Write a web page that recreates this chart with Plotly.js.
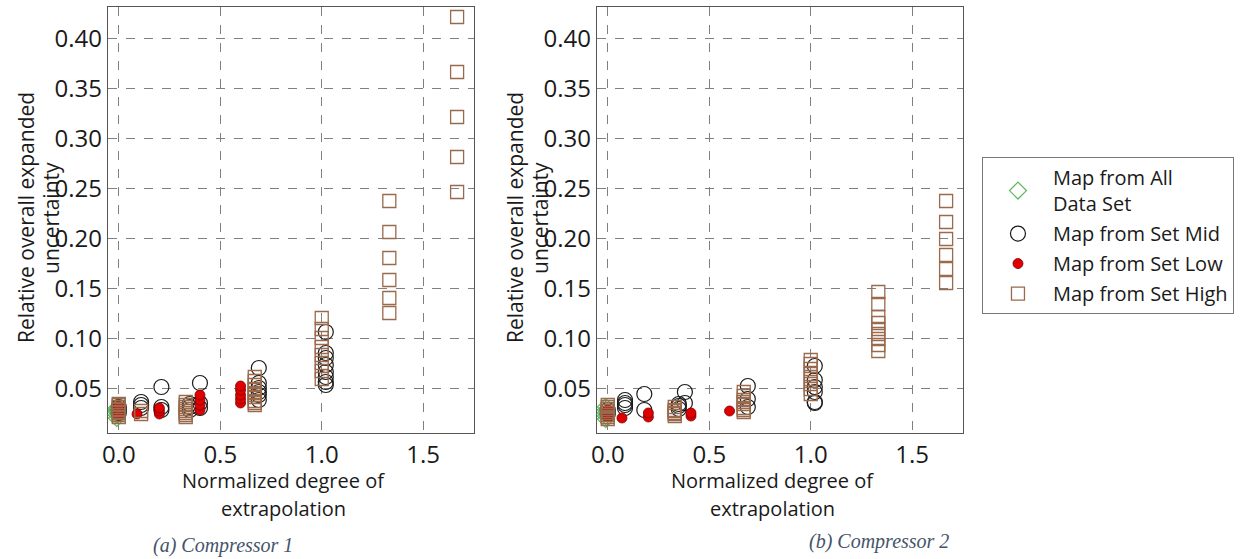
<!DOCTYPE html>
<html>
<head>
<meta charset="utf-8">
<script src="https://cdn.plot.ly/plotly-3.0.1.min.js"></script>
<style>
  html, body { margin: 0; padding: 0; background: #ffffff; }
  #chart { width: 1243px; height: 559px; }
</style>
</head>
<body>
<div id="chart"></div>
<script>
// ---- Compressor 1 ----
const c1AllX  = [-0.01, -0.01, -0.01, -0.01, -0.01];
const c1AllY  = [0.021, 0.024, 0.027, 0.029, 0.031];

const c1MidX  = [0.0, 0.0, 0.0,
                 0.11, 0.11, 0.11,
                 0.21, 0.21, 0.21,
                 0.35, 0.35, 0.35,
                 0.40, 0.40, 0.40,
                 0.69, 0.69, 0.69, 0.69, 0.69, 0.69,
                 1.02, 1.02, 1.02, 1.02, 1.02, 1.02, 1.02, 1.02];
const c1MidY  = [0.026, 0.029, 0.032,
                 0.031, 0.034, 0.037,
                 0.052, 0.032, 0.029,
                 0.035, 0.032, 0.029,
                 0.056, 0.036, 0.031,
                 0.071, 0.056, 0.051, 0.047, 0.044, 0.039,
                 0.107, 0.086, 0.081, 0.074, 0.067, 0.062, 0.057, 0.054];

const c1LowX  = [0.0, 0.0, 0.0, 0.0,
                 0.09,
                 0.20, 0.20, 0.20,
                 0.40, 0.40, 0.40, 0.40,
                 0.60, 0.60, 0.60, 0.60, 0.60];
const c1LowY  = [0.024, 0.027, 0.030, 0.033,
                 0.025,
                 0.025, 0.028, 0.031,
                 0.029, 0.034, 0.039, 0.044,
                 0.036, 0.040, 0.044, 0.049, 0.053];

const c1HighX = [0.0, 0.0, 0.0, 0.0, 0.0, 0.0, 0.0, 0.0, 0.0,
                 0.11, 0.11,
                 0.33, 0.33, 0.33, 0.33, 0.33, 0.33, 0.33, 0.33,
                 0.67, 0.67, 0.67, 0.67, 0.67, 0.67, 0.67, 0.67, 0.67, 0.67,
                 1.0, 1.0, 1.0, 1.0, 1.0, 1.0, 1.0, 1.0,
                 1.333, 1.333, 1.333, 1.333, 1.333, 1.333,
                 1.667, 1.667, 1.667, 1.667, 1.667];
const c1HighY = [0.022, 0.024, 0.026, 0.027, 0.029, 0.030, 0.032, 0.034, 0.035,
                 0.025, 0.028,
                 0.022, 0.024, 0.026, 0.028, 0.030, 0.032, 0.034, 0.037,
                 0.034, 0.036, 0.038, 0.042, 0.044, 0.046, 0.050, 0.054, 0.058, 0.062,
                 0.060, 0.068, 0.076, 0.084, 0.092, 0.101, 0.110, 0.121,
                 0.126, 0.141, 0.159, 0.181, 0.207, 0.238,
                 0.247, 0.282, 0.322, 0.367, 0.422];

// ---- Compressor 2 ----
const c2AllX  = [-0.01, -0.01, -0.01, -0.01, -0.01];
const c2AllY  = [0.020, 0.023, 0.026, 0.029, 0.032];

const c2MidX  = [0.0, 0.0,
                 0.085, 0.085, 0.085, 0.085,
                 0.18, 0.18,
                 0.35, 0.35, 0.35,
                 0.38, 0.38,
                 0.69, 0.69, 0.69,
                 1.02, 1.02, 1.02, 1.02, 1.02, 1.02];
const c2MidY  = [0.025, 0.029,
                 0.031, 0.034, 0.036, 0.039,
                 0.045, 0.029,
                 0.030, 0.033, 0.035,
                 0.047, 0.036,
                 0.053, 0.040, 0.032,
                 0.073, 0.059, 0.052, 0.047, 0.037, 0.036];

const c2LowX  = [0.0, 0.0, 0.0,
                 0.07,
                 0.20, 0.20,
                 0.41, 0.41,
                 0.60];
const c2LowY  = [0.023, 0.026, 0.029,
                 0.021,
                 0.022, 0.026,
                 0.023, 0.026,
                 0.028];

const c2HighX = [0.0, 0.0, 0.0, 0.0, 0.0, 0.0, 0.0, 0.0,
                 0.33, 0.33, 0.33, 0.33, 0.33, 0.33,
                 0.67, 0.67, 0.67, 0.67, 0.67, 0.67, 0.67, 0.67,
                 1.0, 1.0, 1.0, 1.0, 1.0, 1.0, 1.0, 1.0,
                 1.333, 1.333, 1.333, 1.333, 1.333, 1.333, 1.333, 1.333, 1.333,
                 1.667, 1.667, 1.667, 1.667, 1.667, 1.667];
const c2HighY = [0.020, 0.022, 0.024, 0.026, 0.028, 0.030, 0.032, 0.034,
                 0.023, 0.025, 0.026, 0.028, 0.029, 0.032,
                 0.027, 0.029, 0.031, 0.035, 0.037, 0.039, 0.043, 0.047,
                 0.045, 0.050, 0.055, 0.060, 0.065, 0.070, 0.075, 0.079,
                 0.088, 0.094, 0.100, 0.105, 0.110, 0.116, 0.122, 0.135, 0.147,
                 0.156, 0.170, 0.184, 0.200, 0.217, 0.238];

const seriesNames = ['Map from All<br>Data Set', 'Map from Set Mid', 'Map from Set Low', 'Map from Set High'];
const yTickVals = [0.05, 0.10, 0.15, 0.20, 0.25, 0.30, 0.35, 0.40];
const xTickVals = [0.0, 0.5, 1.0, 1.5];
const xTitleLines = ['Normalized degree of', 'extrapolation'];
const yTitleLines = ['Relative overall expanded', 'uncertainty'];
const captions = ['(a) Compressor 1', '(b) Compressor 2'];

// marker styles per series
const styles = [
  { symbol: 'diamond-open', size: 13, color: '#5cb85c', line: { width: 1.2, color: '#5cb85c' } },
  { symbol: 'circle-open',  size: 15, color: '#1a1a1a', line: { width: 1.2, color: '#1a1a1a' } },
  { symbol: 'circle',       size: 10, color: '#e00000', line: { width: 0.8, color: '#7a0000' } },
  { symbol: 'square-open',  size: 13, color: '#9a6a4c', line: { width: 1.3, color: '#9a6a4c' } }
];

const panels = [
  { xa: 'x',  ya: 'y',  sets: [[c1AllX, c1AllY], [c1MidX, c1MidY], [c1LowX, c1LowY], [c1HighX, c1HighY]] },
  { xa: 'x2', ya: 'y2', sets: [[c2AllX, c2AllY], [c2MidX, c2MidY], [c2LowX, c2LowY], [c2HighX, c2HighY]] }
];

const traces = [];
panels.forEach((p, pi) => {
  p.sets.forEach((s, si) => {
    traces.push({
      type: 'scatter', mode: 'markers',
      x: s[0], y: s[1],
      xaxis: p.xa, yaxis: p.ya,
      name: seriesNames[si],
      legendgroup: 'g' + si,
      showlegend: pi === 0,
      marker: styles[si],
      hoverinfo: 'x+y'
    });
  });
});

const tickFont = { family: 'Open Sans, sans-serif', size: 24, color: '#1a1a1a' };

function xAxis(domain, anchor) {
  return {
    domain: domain, anchor: anchor,
    range: [-0.053, 1.75],
    tickvals: xTickVals, tickformat: '.1f',
    tickfont: tickFont,
    showgrid: true, gridcolor: '#808080', gridwidth: 1, griddash: 'dash',
    zeroline: false,
    showline: true, linecolor: '#555555', linewidth: 1.2, mirror: true,
    ticks: ''
  };
}
function yAxis(domain, anchor) {
  return {
    domain: domain, anchor: anchor,
    range: [0.006, 0.432],
    tickvals: yTickVals, tickformat: '.2f',
    tickfont: tickFont,
    showgrid: true, gridcolor: '#808080', gridwidth: 1, griddash: 'dash',
    zeroline: false,
    showline: true, linecolor: '#555555', linewidth: 1.2, mirror: true,
    ticks: ''
  };
}

// axis titles and captions are placed as paper annotations, one per text line
function paperText(text, xPx, yPx, font, angle) {
  return { text: text, xref: 'paper', yref: 'paper', x: xPx / 1243, y: (559 - yPx) / 559,
           xanchor: 'center', yanchor: 'middle', showarrow: false, textangle: angle || 0, font: font };
}
const xTitleFont = { family: 'Open Sans, sans-serif', size: 20, color: '#1a1a1a' };
const yTitleFont = { family: 'Open Sans, sans-serif', size: 21, color: '#1a1a1a' };
const capFont = { family: 'Liberation Serif, serif', size: 20, color: '#44546a' };

const layout = {
  width: 1243, height: 559,
  margin: { l: 0, r: 0, t: 0, b: 0 },
  paper_bgcolor: '#ffffff', plot_bgcolor: '#ffffff',
  xaxis:  xAxis([0.0869, 0.3813], 'y'),
  yaxis:  yAxis([0.2254, 0.9875], 'x'),
  xaxis2: xAxis([0.4803, 0.7747], 'y2'),
  yaxis2: yAxis([0.2254, 0.9875], 'x2'),
  showlegend: true,
  legend: {
    x: 0.79, y: 0.719, xanchor: 'left', yanchor: 'top',
    bordercolor: '#777777', borderwidth: 1, bgcolor: '#ffffff',
    font: { family: 'Open Sans, sans-serif', size: 20, color: '#1a1a1a' },
    itemwidth: 60, tracegroupgap: 1
  },
  annotations: [
    paperText(xTitleLines[0], 283, 480, xTitleFont),
    paperText(xTitleLines[1], 283, 508, xTitleFont),
    paperText(xTitleLines[0], 772, 480, xTitleFont),
    paperText(xTitleLines[1], 772, 508, xTitleFont),
    paperText(yTitleLines[0], 26, 218, yTitleFont, -90),
    paperText(yTitleLines[1], 51, 218, yTitleFont, -90),
    paperText(yTitleLines[0], 515, 218, yTitleFont, -90),
    paperText(yTitleLines[1], 540, 218, yTitleFont, -90),
    paperText('<i>' + captions[0] + '</i>', 223, 545, capFont),
    paperText('<i>' + captions[1] + '</i>', 879, 541, capFont)
  ]
};

Plotly.newPlot('chart', traces, layout, { staticPlot: true, displayModeBar: false });
</script>
</body>
</html>
